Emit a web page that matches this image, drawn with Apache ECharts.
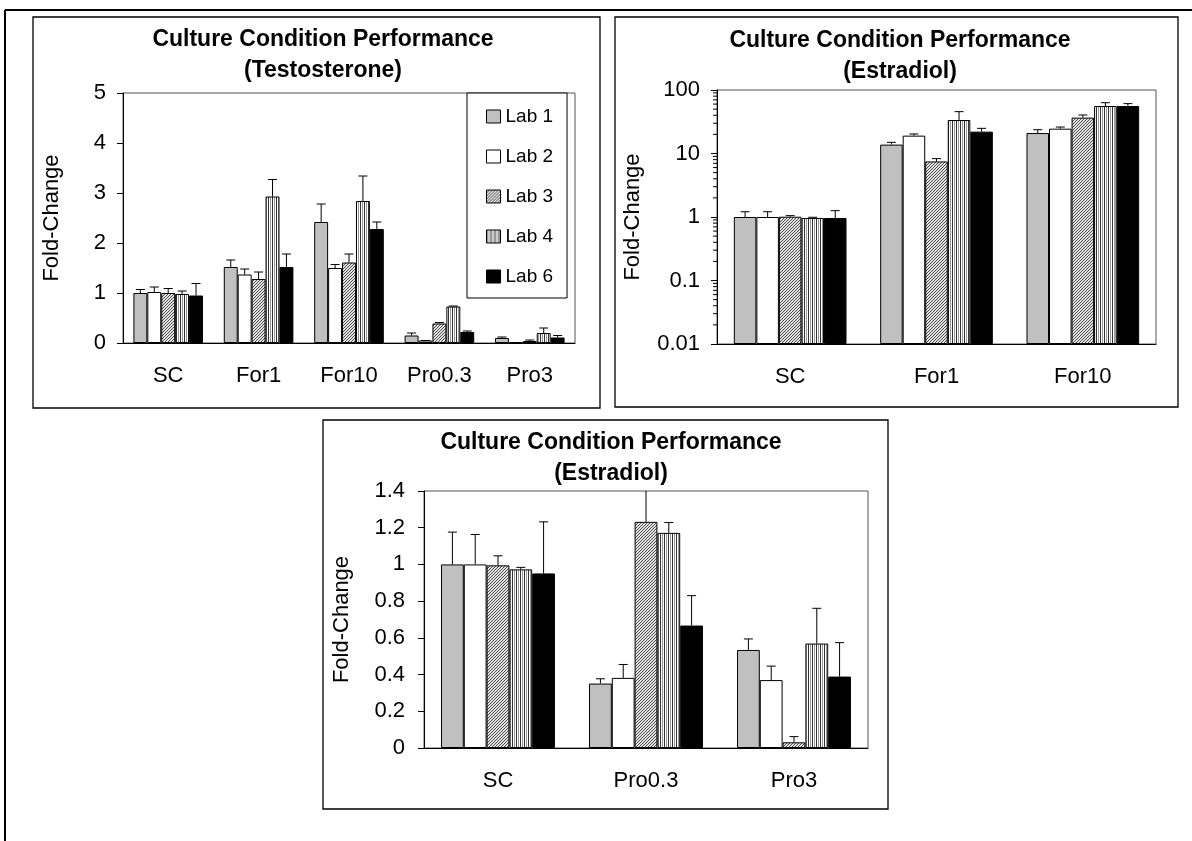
<!DOCTYPE html>
<html>
<head>
<meta charset="utf-8">
<script src="https://cdn.jsdelivr.net/npm/echarts@6/dist/echarts.min.js"></script>
<style>
  html, body { margin: 0; padding: 0; background: #fff; }
  #chart { width: 1192px; height: 841px; }
</style>
</head>
<body>
<div id="chart"></div>
<script>
// ---- data ----
const labNames = ['Lab 1', 'Lab 2', 'Lab 3', 'Lab 4', 'Lab 6'];

// Testosterone panel
const testoCategories = ['SC', 'For1', 'For10', 'Pro0.3', 'Pro3'];
const testoLab1 = [1.00, 1.52, 2.42, 0.15, 0.10];
const testoLab2 = [1.02, 1.37, 1.50, 0.05, 0.01];
const testoLab3 = [1.00, 1.28, 1.61, 0.39, 0.04];
const testoLab4 = [0.98, 2.93, 2.84, 0.73, 0.20];
const testoLab6 = [0.95, 1.52, 2.28, 0.22, 0.11];
// upper ends of the error bars
const testoLab1Err = [1.07, 1.66, 2.78, 0.20, 0.12];
const testoLab2Err = [1.12, 1.48, 1.57, 0.05, 0.01];
const testoLab3Err = [1.09, 1.42, 1.78, 0.41, 0.06];
const testoLab4Err = [1.04, 3.27, 3.34, 0.74, 0.30];
const testoLab6Err = [1.19, 1.78, 2.42, 0.24, 0.15];
const testoTicks = { min: 0, max: 5, interval: 1 };

// Estradiol panel, log scale
const estLogCategories = ['SC', 'For1', 'For10'];
const estLogLab1 = [1.00, 13.8, 21.0];
const estLogLab2 = [1.00, 19.1, 24.6];
const estLogLab3 = [1.01, 7.5, 36.7];
const estLogLab4 = [0.965, 33.7, 56.0];
const estLogLab6 = [0.965, 22.1, 56.0];
const estLogLab1Err = [1.21, 15.0, 23.7];
const estLogLab2Err = [1.21, 20.3, 26.1];
const estLogLab3Err = [1.05, 8.3, 40.4];
const estLogLab4Err = [0.99, 45.6, 63.1];
const estLogLab6Err = [1.26, 24.9, 61.0];
const estLogTicks = { min: 0.01, max: 100 };

// Estradiol panel, linear scale
const estLinCategories = ['SC', 'Pro0.3', 'Pro3'];
const estLinLab1 = [1.00, 0.351, 0.534];
const estLinLab2 = [1.00, 0.382, 0.370];
const estLinLab3 = [0.995, 1.232, 0.031];
const estLinLab4 = [0.973, 1.172, 0.569];
const estLinLab6 = [0.951, 0.667, 0.389];
const estLinLab1Err = [1.176, 0.377, 0.594];
const estLinLab2Err = [1.163, 0.455, 0.446];
const estLinLab3Err = [1.047, 1.45, 0.062];
const estLinLab4Err = [0.984, 1.228, 0.761];
const estLinLab6Err = [1.232, 0.830, 0.574];
const estLinTicks = { min: 0, max: 1.4, interval: 0.2 };

// ---- fill patterns ----
function makeTile(w, h, draw) {
  const c = document.createElement('canvas');
  c.width = w; c.height = h;
  draw(c.getContext('2d'));
  return c;
}
// fine diagonal hatch
const hatchTile = makeTile(3, 3, ctx => {
  ctx.fillStyle = '#e4e4e4'; ctx.fillRect(0, 0, 3, 3);
  ctx.fillStyle = '#4a4a4a';
  for (let i = 0; i < 3; i++) ctx.fillRect(i, 2 - i, 1, 1);
});
// vertical stripes
const stripeTile = makeTile(4, 4, ctx => {
  const cols = ['#333333', '#ffffff', '#999999', '#ffffff'];
  cols.forEach((c, i) => { ctx.fillStyle = c; ctx.fillRect(i, 0, 1, 4); });
});
const labFills = [
  '#c0c0c0',
  '#ffffff',
  { image: hatchTile, repeat: 'repeat' },
  { image: stripeTile, repeat: 'repeat' },
  '#000000'
];

const FONT = 'Liberation Sans';
const CAT_GAP = 0.23;

function barSeries(axisIdx, groups) {
  return groups.map((vals, si) => ({
    type: 'bar',
    name: labNames[si],
    xAxisIndex: axisIdx,
    yAxisIndex: axisIdx,
    data: vals,
    barGap: '0%',
    barCategoryGap: (CAT_GAP * 100) + '%',
    itemStyle: { color: labFills[si], borderColor: '#000', borderWidth: 1 },
    emphasis: { disabled: true },
    silent: true,
    z: 2
  }));
}

function errorSeries(axisIdx, nCat, groups, errs) {
  const data = [];
  groups.forEach((vals, si) => vals.forEach((v, ci) => data.push([ci, v, errs[si][ci], si])));
  return {
    type: 'custom',
    xAxisIndex: axisIdx,
    yAxisIndex: axisIdx,
    data: data,
    clip: true,
    silent: true,
    z: 3,
    renderItem(params, api) {
      const ci = api.value(0), v = api.value(1), e = api.value(2), si = api.value(3);
      const band = params.coordSys.width / nCat;
      const barW = band * (1 - CAT_GAP) / groups.length;
      const base = api.coord([ci, v]);
      const x = base[0] + (si - (groups.length - 1) / 2) * barW;
      const y0 = base[1];
      const y1 = api.coord([ci, e])[1];
      const style = { stroke: '#000', lineWidth: 1 };
      return {
        type: 'group',
        children: [
          { type: 'line', shape: { x1: x, y1: y0, x2: x, y2: y1 }, style },
          { type: 'line', shape: { x1: x - 4.5, y1: y1, x2: x + 4.5, y2: y1 }, style }
        ]
      };
    }
  };
}

// short ticks at 2..9 within each decade of the log axis
function logMinorTickSeries(axisIdx, range) {
  const data = [];
  for (let d = range.min; d < range.max - 1e-12; d *= 10) {
    for (let m = 2; m <= 9; m++) data.push([0, +(m * d).toPrecision(3)]);
  }
  return {
    type: 'custom',
    xAxisIndex: axisIdx,
    yAxisIndex: axisIdx,
    data: data,
    clip: false,
    silent: true,
    z: 4,
    renderItem(params, api) {
      const y = api.coord([0, api.value(1)])[1];
      const x = params.coordSys.x;
      return { type: 'line', shape: { x1: x - 4, y1: y, x2: x, y2: y }, style: { stroke: '#000', lineWidth: 1 } };
    }
  };
}

function catAxis(idx, cats) {
  return {
    type: 'category', gridIndex: idx, data: cats,
    axisLine: { lineStyle: { color: '#000', width: 1 } },
    axisTick: { inside: true, length: 7, lineStyle: { color: '#000' } },
    axisLabel: { interval: 0, fontSize: 22, color: '#000', margin: 22, fontFamily: FONT },
    splitLine: { show: false }
  };
}

function valAxis(idx, extra) {
  return Object.assign({
    type: 'value', gridIndex: idx,
    name: 'Fold-Change', nameLocation: 'middle', nameGap: 60,
    nameTextStyle: { fontSize: 22, color: '#000', fontFamily: FONT },
    axisLine: { show: true, lineStyle: { color: '#000', width: 1 } },
    axisTick: { show: true, length: 6, lineStyle: { color: '#000' } },
    axisLabel: { fontSize: 22, color: '#000', margin: 17, fontFamily: FONT },
    splitLine: { show: false }
  }, extra);
}

const titleStyle = { fontSize: 23, fontWeight: 'bold', color: '#000', lineHeight: 31, fontFamily: FONT };

const testoGroups = [testoLab1, testoLab2, testoLab3, testoLab4, testoLab6];
const testoErrs = [testoLab1Err, testoLab2Err, testoLab3Err, testoLab4Err, testoLab6Err];
const estLogGroups = [estLogLab1, estLogLab2, estLogLab3, estLogLab4, estLogLab6];
const estLogErrs = [estLogLab1Err, estLogLab2Err, estLogLab3Err, estLogLab4Err, estLogLab6Err];
const estLinGroups = [estLinLab1, estLinLab2, estLinLab3, estLinLab4, estLinLab6];
const estLinErrs = [estLinLab1Err, estLinLab2Err, estLinLab3Err, estLinLab4Err, estLinLab6Err];

const option = {
  animation: false,
  backgroundColor: '#fff',
  textStyle: { fontFamily: FONT },
  title: [
    { text: 'Culture Condition Performance\n(Testosterone)', left: 323, top: 24, textAlign: 'center', padding: 0, textStyle: titleStyle },
    { text: 'Culture Condition Performance\n(Estradiol)', left: 900, top: 25, textAlign: 'center', padding: 0, textStyle: titleStyle },
    { text: 'Culture Condition Performance\n(Estradiol)', left: 611, top: 427, textAlign: 'center', padding: 0, textStyle: titleStyle }
  ],
  legend: {
    data: labNames,
    orient: 'vertical',
    left: 467, top: 93,
    padding: [14, 14, 12, 19],
    itemGap: 21,
    itemWidth: 14, itemHeight: 13,
    icon: 'rect',
    selectedMode: false,
    borderColor: '#000', borderWidth: 1,
    backgroundColor: '#fff',
    textStyle: { fontSize: 19, color: '#000', fontFamily: FONT, padding: [0, 0, 0, 0] },
    itemStyle: { borderColor: '#000', borderWidth: 1 }
  },
  grid: [
    { left: 123, top: 93, width: 452, height: 250, show: true, borderColor: '#555', borderWidth: 1 },
    { left: 717, top: 90, width: 439, height: 254, show: true, borderColor: '#555', borderWidth: 1 },
    { left: 424, top: 491, width: 444, height: 257, show: true, borderColor: '#555', borderWidth: 1 }
  ],
  xAxis: [
    catAxis(0, testoCategories),
    catAxis(1, estLogCategories),
    catAxis(2, estLinCategories)
  ],
  yAxis: [
    valAxis(0, testoTicks),
    valAxis(1, {
      type: 'log', logBase: 10, min: estLogTicks.min, max: estLogTicks.max, startValue: estLogTicks.min, nameGap: 73,
      axisLabel: { fontSize: 22, color: '#000', margin: 17, fontFamily: FONT, formatter: v => String(+(+v).toPrecision(3)) }
    }),
    valAxis(2, Object.assign({ nameGap: 71, axisLabel: { fontSize: 22, color: '#000', margin: 19, fontFamily: FONT } }, estLinTicks))
  ],
  graphic: [
    { type: 'line', shape: { x1: 5, y1: 10, x2: 1192, y2: 10 }, style: { stroke: '#000', lineWidth: 2 }, silent: true },
    { type: 'line', shape: { x1: 5, y1: 10, x2: 5, y2: 841 }, style: { stroke: '#000', lineWidth: 2 }, silent: true },
    { type: 'rect', shape: { x: 33, y: 17, width: 567, height: 391 }, style: { fill: 'none', stroke: '#000', lineWidth: 1.3 }, silent: true },
    { type: 'rect', shape: { x: 615, y: 17, width: 563, height: 390 }, style: { fill: 'none', stroke: '#000', lineWidth: 1.3 }, silent: true },
    { type: 'rect', shape: { x: 323, y: 420, width: 565, height: 389 }, style: { fill: 'none', stroke: '#000', lineWidth: 1.3 }, silent: true }
  ],
  series: [].concat(
    barSeries(0, testoGroups),
    [errorSeries(0, testoCategories.length, testoGroups, testoErrs)],
    barSeries(1, estLogGroups),
    [errorSeries(1, estLogCategories.length, estLogGroups, estLogErrs), logMinorTickSeries(1, estLogTicks)],
    barSeries(2, estLinGroups),
    [errorSeries(2, estLinCategories.length, estLinGroups, estLinErrs)]
  )
};

const chart = echarts.init(document.getElementById('chart'), null, { renderer: 'canvas' });
chart.setOption(option);
</script>
</body>
</html>
